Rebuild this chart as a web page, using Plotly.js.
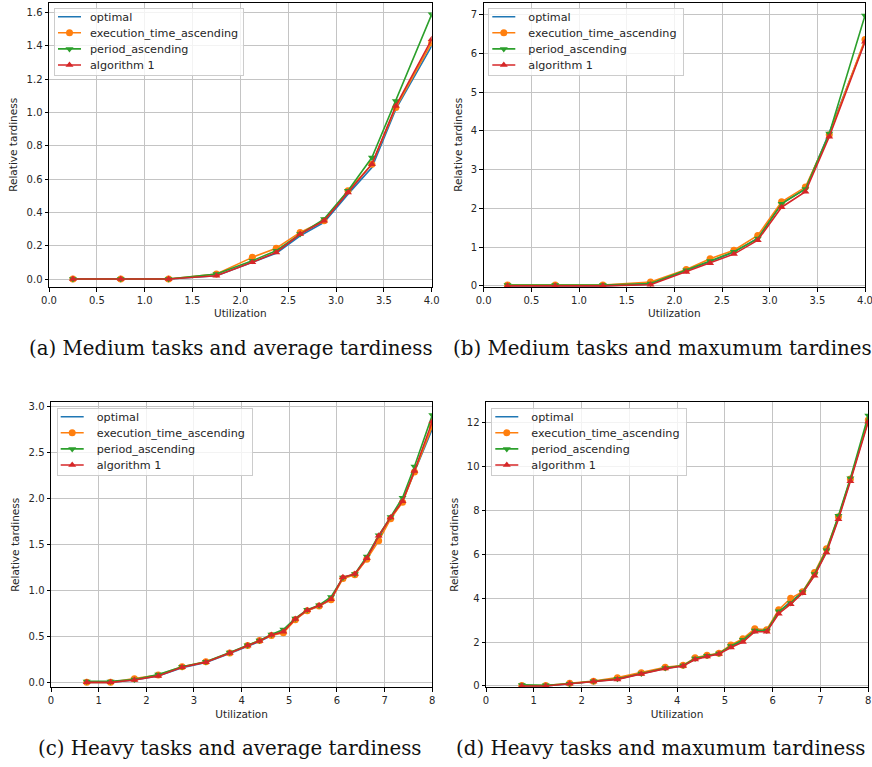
<!DOCTYPE html>
<html>
<head>
<meta charset="utf-8">
<script src="https://cdn.plot.ly/plotly-3.0.1.min.js"></script>
<style>
html,body{margin:0;padding:0;background:#fff;}
#chart{width:872px;height:767px;}
</style>
</head>
<body>
<div id="chart"></div>
<script>
// ---------- data ----------
const seriesNames = ["optimal", "execution_time_ascending", "period_ascending", "algorithm 1"];

const xMedium = [0.25, 0.75, 1.25, 1.75, 2.125, 2.375, 2.625, 2.875, 3.125, 3.375, 3.625, 4.0];
const xHeavy = [0.75, 1.25, 1.75, 2.25, 2.75, 3.25, 3.75, 4.125, 4.375, 4.625, 4.875, 5.125, 5.375, 5.625, 5.875, 6.125, 6.375, 6.625, 6.875, 7.125, 7.375, 7.625, 8.0];

// (a) Medium tasks, average tardiness
const aOptimal = [0, 0, 0, 0.02, 0.10, 0.155, 0.26, 0.34, 0.51, 0.67, 1.02, 1.40];
const aExec    = [0, 0, 0, 0.03, 0.13, 0.185, 0.28, 0.35, 0.53, 0.69, 1.03, 1.42];
const aPeriod  = [0, 0, 0, 0.03, 0.11, 0.17, 0.27, 0.36, 0.53, 0.73, 1.07, 1.59];
const aAlg1    = [0, 0, 0, 0.02, 0.10, 0.16, 0.27, 0.35, 0.52, 0.69, 1.04, 1.44];

// (b) Medium tasks, maximum tardiness
const bOptimal = [0, 0, 0, 0.05, 0.39, 0.63, 0.87, 1.23, 2.13, 2.50, 3.95, 6.32];
const bExec    = [0.02, 0.02, 0.02, 0.10, 0.42, 0.70, 0.92, 1.30, 2.17, 2.55, 3.90, 6.36];
const bPeriod  = [0.02, 0.02, 0.02, 0.06, 0.40, 0.64, 0.88, 1.22, 2.12, 2.50, 3.93, 6.98];
const bAlg1    = [0, 0, 0, 0.03, 0.36, 0.58, 0.82, 1.18, 2.03, 2.43, 3.85, 6.30];

// (c) Heavy tasks, average tardiness
const cOptimal = [0, 0, 0.025, 0.07, 0.16, 0.215, 0.315, 0.395, 0.445, 0.51, 0.55, 0.685, 0.78, 0.83, 0.90, 1.14, 1.175, 1.345, 1.58, 1.785, 1.97, 2.29, 2.76];
const cExec    = [0, 0, 0.04, 0.08, 0.17, 0.225, 0.32, 0.40, 0.455, 0.51, 0.54, 0.68, 0.78, 0.83, 0.90, 1.13, 1.17, 1.34, 1.54, 1.78, 1.96, 2.29, 2.79];
const cPeriod  = [0.01, 0.01, 0.03, 0.085, 0.17, 0.225, 0.325, 0.405, 0.455, 0.52, 0.575, 0.695, 0.79, 0.84, 0.93, 1.14, 1.18, 1.37, 1.60, 1.80, 2.01, 2.35, 2.91];
const cAlg1    = [0, 0, 0.025, 0.07, 0.165, 0.22, 0.32, 0.40, 0.45, 0.515, 0.55, 0.69, 0.785, 0.835, 0.905, 1.145, 1.18, 1.35, 1.595, 1.795, 1.97, 2.30, 2.84];

// (d) Heavy tasks, maximum tardiness
const dOptimal = [0, 0, 0.10, 0.20, 0.31, 0.56, 0.80, 0.92, 1.22, 1.36, 1.47, 1.78, 2.05, 2.50, 2.50, 3.35, 3.85, 4.25, 5.05, 6.12, 7.65, 9.38, 12.10];
const dExec    = [0.02, 0.02, 0.12, 0.22, 0.38, 0.60, 0.85, 0.94, 1.29, 1.40, 1.49, 1.87, 2.15, 2.60, 2.56, 3.47, 3.99, 4.29, 5.16, 6.24, 7.70, 9.42, 12.11];
const dPeriod  = [0.05, 0.03, 0.10, 0.21, 0.33, 0.57, 0.82, 0.93, 1.25, 1.38, 1.48, 1.82, 2.10, 2.52, 2.52, 3.40, 3.78, 4.28, 5.10, 6.18, 7.75, 9.45, 12.31];
const dAlg1    = [0, 0, 0.10, 0.20, 0.30, 0.55, 0.79, 0.91, 1.20, 1.34, 1.46, 1.75, 2.00, 2.47, 2.47, 3.29, 3.72, 4.22, 5.02, 6.08, 7.59, 9.32, 12.03];

const captions = [
  "(a) Medium tasks and average tardiness",
  "(b) Medium tasks and maxumum tardiness",
  "(c) Heavy tasks and average tardiness",
  "(d) Heavy tasks and maxumum tardiness"
];
const xTitle = "Utilization";
const yTitle = "Relative tardiness";

// ---------- styling ----------
const W = 872, H = 767;
const colors = ["#1f77b4", "#ff7f0e", "#2ca02c", "#d62728"];
const symbols = [null, "circle", "triangle-down", "triangle-up"];
const panels = [
  {x: xMedium, ys: [aOptimal, aExec, aPeriod, aAlg1], px: [49, 431.7], py: [2.7, 287], yr: [-0.048, 1.66], dy: 0.2, yf: ".1f", xr: [0, 4], dx: 0.5, xf: ".1f", leg: [54, 8.3], cap: [27, 348]},
  {x: xMedium, ys: [bOptimal, bExec, bPeriod, bAlg1], px: [483.7, 865], py: [2.7, 287], yr: [-0.03, 7.31], dy: 1, yf: "d", xr: [0, 4], dx: 0.5, xf: ".1f", leg: [488.3, 8.3], cap: [451, 348]},
  {x: xHeavy, ys: [cOptimal, cExec, cPeriod, cAlg1], px: [51, 432.3], py: [402.3, 687.3], yr: [-0.054, 3.048], dy: 0.5, yf: ".1f", xr: [0, 8], dx: 1, xf: "d", leg: [56.7, 408.3], cap: [36, 748]},
  {x: xHeavy, ys: [dOptimal, dExec, dPeriod, dAlg1], px: [486, 868.3], py: [402.3, 687.3], yr: [-0.06, 12.91], dy: 2, yf: "d", xr: [0, 8], dx: 1, xf: "d", leg: [491.3, 408.3], cap: [454, 748]}
];

const sans = "DejaVu Sans, sans-serif";
const textCol = "#262626";
const traces = [];
const layout = {
  width: W, height: H,
  margin: {l: 0, r: 0, t: 0, b: 0},
  paper_bgcolor: "#ffffff",
  plot_bgcolor: "#ffffff",
  showlegend: true,
  annotations: []
};

panels.forEach((p, i) => {
  const n = i === 0 ? "" : String(i + 1);
  const legName = "legend" + n;
  p.ys.forEach((ys, k) => {
    const t = {
      type: "scatter",
      x: p.x, y: ys,
      name: seriesNames[k],
      xaxis: "x" + n, yaxis: "y" + n,
      legend: legName,
      mode: symbols[k] ? "lines+markers" : "lines",
      line: {color: colors[k], width: 1.6},
      hoverinfo: "x+y+name"
    };
    if (symbols[k]) t.marker = {symbol: symbols[k], size: 7, color: colors[k], line: {width: 0}};
    traces.push(t);
  });
  const axCommon = {
    showline: true, mirror: true, linecolor: "#000000", linewidth: 1,
    ticks: "outside", ticklen: 3.5, tickwidth: 1, tickcolor: "#000000",
    showgrid: true, gridcolor: "#c4c4c4", gridwidth: 1,
    zeroline: false, automargin: false, ticklabeloverflow: "allow",
    tickfont: {family: sans, size: 10, color: textCol}
  };
  layout["xaxis" + n] = Object.assign({}, axCommon, {
    domain: [p.px[0] / W, p.px[1] / W],
    anchor: "y" + n,
    range: p.xr, tickmode: "linear", tick0: 0, dtick: p.dx, tickformat: p.xf,
    title: {text: xTitle, font: {family: sans, size: 10.5, color: textCol}, standoff: 5}
  });
  layout["yaxis" + n] = Object.assign({}, axCommon, {
    domain: [1 - p.py[1] / H, 1 - p.py[0] / H],
    anchor: "x" + n,
    range: p.yr, tickmode: "linear", tick0: 0, dtick: p.dy, tickformat: p.yf,
    title: {text: yTitle, font: {family: sans, size: 10.5, color: textCol}, standoff: 6}
  });
  layout[legName] = {
    x: p.leg[0] / W, y: 1 - p.leg[1] / H,
    xanchor: "left", yanchor: "top",
    bgcolor: "rgba(255,255,255,0.8)",
    bordercolor: "#cccccc", borderwidth: 1,
    font: {family: sans, size: 11.2, color: textCol},
    itemwidth: 30, tracegroupgap: 0
  };
  layout.annotations.push({
    xref: "paper", yref: "paper",
    x: p.cap[0] / W, y: 1 - p.cap[1] / H,
    xanchor: "left", yanchor: "middle",
    text: captions[i], showarrow: false,
    font: {family: "DejaVu Serif, serif", size: 19.8, color: "#111111"}
  });
});

// compact matplotlib-like legend entries (spacing / sample length / text offset)
function compactLegends(gd) {
  const firstOffset = 8.4, step = 16.1, textOffset = 35.5, rightPad = 5.5;
  ["legend", "legend2", "legend3", "legend4"].forEach(id => {
    const g = gd.querySelector("g." + id);
    if (!g) return;
    const bg = g.querySelector("rect.bg");
    const items = Array.from(g.querySelectorAll("g.traces"));
    if (!items.length || !bg) return;
    const bgLeft = bg.getBoundingClientRect().left;
    let maxRight = 0;
    items.forEach((el, i) => {
      el.setAttribute("transform", "translate(0," + (firstOffset + i * step) + ")");
      el.querySelectorAll("g.legendlines path").forEach(pth => pth.setAttribute("d", "M4,0h23"));
      el.querySelectorAll("g.legendpoints path").forEach(pth => pth.setAttribute("transform", "translate(15.5,0)"));
      const txt = el.querySelector("text.legendtext");
      if (txt) {
        const r = txt.getBoundingClientRect();
        const dx = (bgLeft + textOffset) - r.left;
        if (isFinite(dx)) txt.setAttribute("transform", "translate(" + dx.toFixed(2) + ",0)");
        const r2 = txt.getBoundingClientRect();
        maxRight = Math.max(maxRight, r2.right - bgLeft);
      }
      const tog = el.querySelector("rect.legendtoggle");
      if (tog) { tog.setAttribute("y", -step / 2); tog.setAttribute("height", step); }
    });
    bg.setAttribute("height", firstOffset + (items.length - 1) * step + 10.3);
    if (maxRight > 0) bg.setAttribute("width", (maxRight + rightPad).toFixed(2));
  });
}

Plotly.newPlot("chart", traces, layout, {displayModeBar: false, staticPlot: true})
  .then(gd => { compactLegends(gd); });
</script>
</body>
</html>
